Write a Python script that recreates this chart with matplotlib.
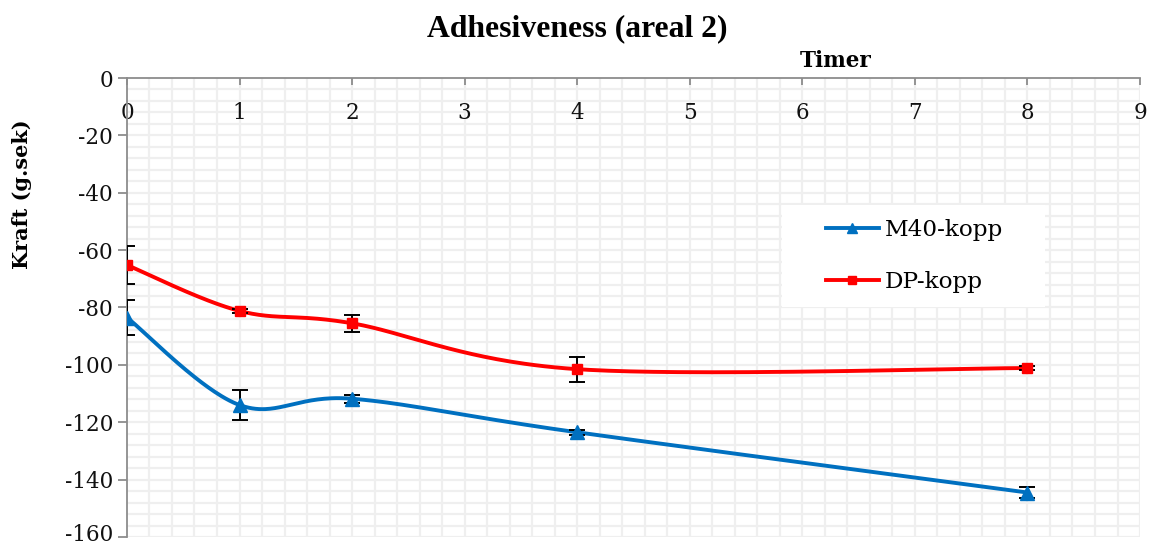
import numpy as np
import matplotlib
matplotlib.use("Agg")
import matplotlib.pyplot as plt
import matplotlib.transforms as mtransforms
from matplotlib.patches import Rectangle
from matplotlib.ticker import MultipleLocator

# data
timer = [0, 1, 2, 4, 8]
m40 = [-83.5, -114.0, -111.8, -123.5, -144.5]
m40_err = [6.1, 5.3, 1.4, 0.8, 1.8]
dp = [-65.2, -81.2, -85.5, -101.5, -101.1]
dp_err = [6.5, 0.8, 3.0, 4.3, 0.8]

title = "Adhesiveness (areal 2)"
xlabel = "Timer"
ylabel = "Kraft (g.sek)"

plt.rcParams["font.family"] = ["DejaVu Serif"]
plt.rcParams["axes.unicode_minus"] = False


def excel_smooth(x, y, n=60):
    # bezier smoothing like Excel's "smoothed line"
    p = np.column_stack([x, y]).astype(float)
    pts = np.vstack([p[0], p, p[-1]])
    out = []
    t = np.linspace(0, 1, n)[:, None]
    for i in range(1, len(pts) - 2):
        p0, p1, p2, p3 = pts[i - 1], pts[i], pts[i + 1], pts[i + 2]
        c1 = p1 + (p2 - p0) / 6
        c2 = p2 - (p3 - p1) / 6
        seg = ((1 - t) ** 3) * p1 + 3 * ((1 - t) ** 2) * t * c1 + 3 * (1 - t) * t ** 2 * c2 + t ** 3 * p2
        out.append(seg if i == 1 else seg[1:])
    s = np.vstack(out)
    return s[:, 0], s[:, 1]


fig = plt.figure(figsize=(11.52, 5.47), dpi=100)
ax = fig.add_axes([0.1102, 0.0183, 0.8794, 0.8391])

ax.set_xlim(0, 9)
ax.set_ylim(-160, 0)
ax.xaxis.set_major_locator(MultipleLocator(1))
ax.yaxis.set_major_locator(MultipleLocator(20))

# grid drawn by hand so tick labels stay on top of it
gcol = "#efefef"
ax.vlines(np.arange(0.2, 9.01, 0.2), -160, 0, color=gcol, lw=1.6, zorder=0.1)
ax.hlines(np.arange(-160, -0.1, 4), 0, 9, color=gcol, lw=1.6, zorder=0.1)

gray = "#8c8c8c"
for s in ["top", "right"]:
    ax.spines[s].set_visible(False)
ax.spines["bottom"].set_position(("data", 0))
ax.spines["bottom"].set_color(gray)
ax.spines["left"].set_color(gray)
ax.spines["bottom"].set_linewidth(1.3)
ax.spines["left"].set_linewidth(1.3)
ax.tick_params(which="major", color=gray, length=6.5, width=1.3, labelsize=15.5, labelcolor="#111111")
ax.tick_params(axis="x", length=5, pad=12)
ax.tick_params(axis="y", pad=3.5)

blue = "#0070C0"
red = "#FF0000"

sx, sy = excel_smooth(timer, m40)
ax.plot(sx, sy, color=blue, lw=2.8, zorder=3, solid_capstyle="round")
sx, sy = excel_smooth(timer, dp)
ax.plot(sx, sy, color=red, lw=2.8, zorder=3, solid_capstyle="round")

ax.errorbar(timer, m40, yerr=m40_err, fmt="none", ecolor="black", elinewidth=1.4, capsize=6, capthick=1.4, zorder=4)
ax.errorbar(timer, dp, yerr=dp_err, fmt="none", ecolor="black", elinewidth=1.4, capsize=6, capthick=1.4, zorder=4)
ax.plot(timer, m40, ls="none", marker="^", ms=9.5, color=blue, zorder=5)
ax.plot(timer, dp, ls="none", marker="s", ms=7.5, color=red, zorder=5)

# legend box
ax.add_patch(Rectangle((0.647, 0.501), 0.259, 0.222, transform=ax.transAxes,
                       facecolor="white", edgecolor="none", zorder=2.5))
h1, = ax.plot([], [], color=blue, lw=2.8, marker="^", ms=7)
h2, = ax.plot([], [], color=red, lw=2.8, marker="s", ms=6)
ax.legend([h1, h2], ["M40-kopp", "DP-kopp"], loc="upper left", bbox_to_anchor=(0.690, 0.693),
          frameon=False, fontsize=16.7, handlelength=2.28, handletextpad=0.26,
          labelspacing=1.3, borderaxespad=0, borderpad=0)

fig.text(0.501, 0.948, title, ha="center", va="center", fontsize=22.8, fontweight="bold",
         family=["Liberation Serif", "DejaVu Serif"])
fig.text(0.725, 0.889, xlabel, ha="center", va="center", fontsize=15.5, fontweight="bold")
fig.text(0.019, 0.645, ylabel, ha="center", va="center", rotation=90, fontsize=15, fontweight="bold")

# nudge the bottom label (-160) up a little so it is not cut by the edge
fig.canvas.draw()
shift = mtransforms.ScaledTranslation(0, 3 / 72, fig.dpi_scale_trans)
for tick in ax.yaxis.get_major_ticks():
    if abs(tick.get_loc() + 160) < 1e-6:
        tick.label1.set_transform(tick.label1.get_transform() + shift)

fig.savefig("out.png", dpi=100)
